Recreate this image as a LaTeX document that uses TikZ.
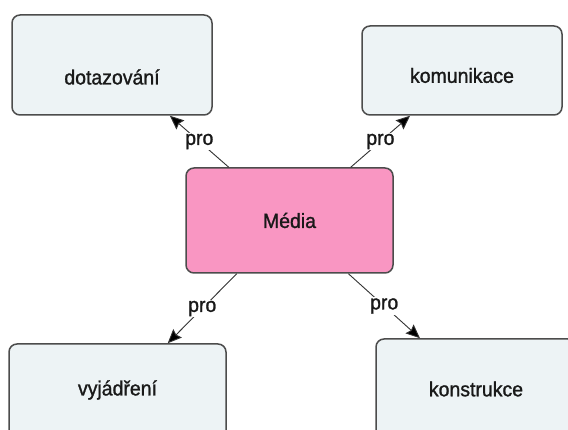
\documentclass[tikz,border=0pt]{standalone}
\usepackage{fontspec}
\setmainfont{Liberation Sans}[FakeBold=1.2,FakeStretch=0.95]
\usetikzlibrary{arrows.meta}
\definecolor{boxfill}{RGB}{237,243,245}
\definecolor{mediafill}{RGB}{249,150,194}
\begin{document}
\begin{tikzpicture}[x=1pt,y=1pt,
        box/.style={draw=black!70,line width=1.5pt,rounded corners=8pt,fill=boxfill,inner sep=0pt},
        txt/.style={text=black!90,font=\fontsize{20.5}{22}\selectfont},
        pro/.style={fill=white,inner sep=1pt,text=black!90,font=\fontsize{20.5}{22}\selectfont},
        link/.style={draw=black!80,line width=0.9pt,-{Stealth[length=14pt,width=12pt,inset=2pt,fill=black]}}]
        \useasboundingbox (0,0) rectangle (568,430);
        \clip (0,0) rectangle (568,430);
        \node[box,minimum width=207pt,minimum height=105pt,fill=mediafill,
            label={[txt]center:Média}] (media) at (289.5,209.5) {};
        \node[box,minimum width=200pt,minimum height=100pt,
            label={[txt,yshift=-12pt]center:dotazování}] (dotaz) at (112,365) {};
        \node[box,minimum width=200pt,minimum height=89pt,
            label={[txt,yshift=-5pt]center:komunikace}] (komun) at (462,359.5) {};
        \node[box,minimum width=217pt,minimum height=100pt,
            label={[txt,yshift=4pt]center:vyjádření}] (vyjad) at (117.5,36) {};
        \node[box,minimum width=200pt,minimum height=100pt,
            label={[txt]center:konstrukce}] (konst) at (476,41) {};
        \draw[link] (media) -- node[pro]{pro} (dotaz);
        \draw[link] (media) -- node[pro]{pro} (komun);
        \draw[link] (media) -- node[pro]{pro} (vyjad);
        \draw[link] (media) -- node[pro]{pro} (konst);
\end{tikzpicture}
\end{document}
